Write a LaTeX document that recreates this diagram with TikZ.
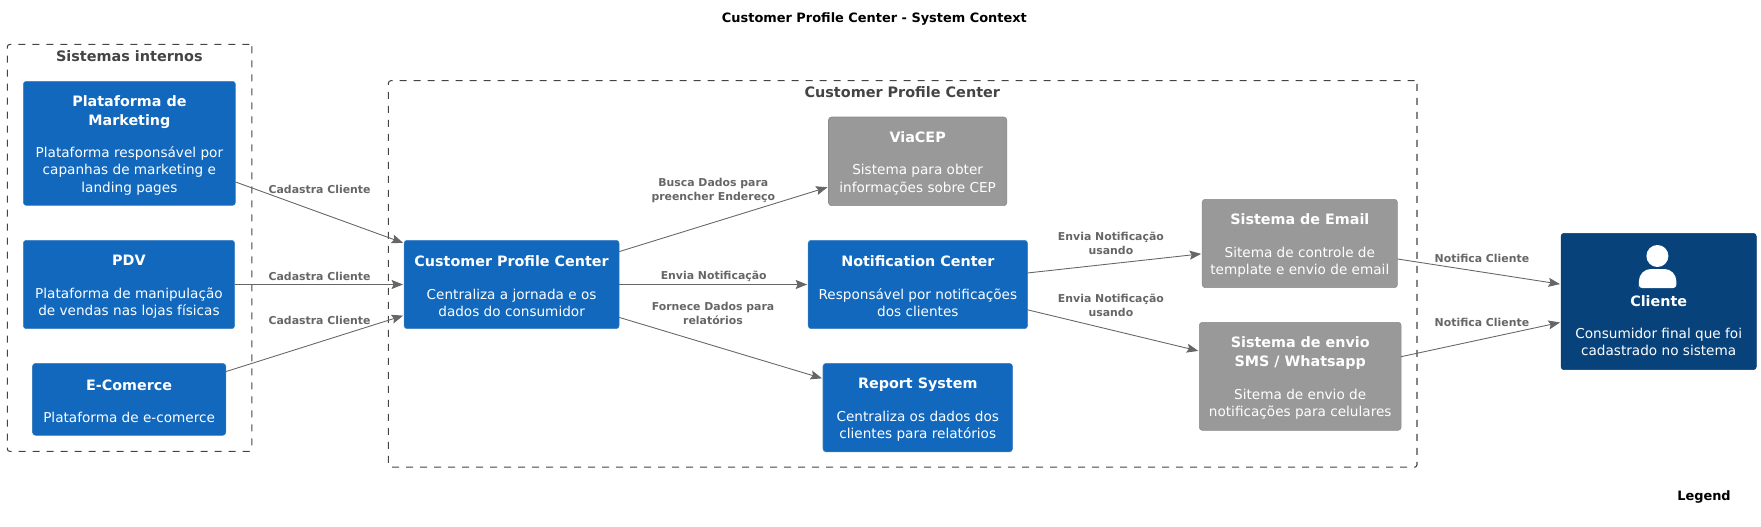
\documentclass[tikz,border=0pt]{standalone}
\usepackage{fontspec}
\setmainfont{DejaVu Sans}
\usetikzlibrary{arrows.meta}
\definecolor{sysblue}{HTML}{1168BD}
\definecolor{sysblueline}{HTML}{3C7FC0}
\definecolor{extgray}{HTML}{999999}
\definecolor{extgrayline}{HTML}{8A8A8A}
\definecolor{persblue}{HTML}{08427B}
\definecolor{persline}{HTML}{073B6F}
\definecolor{edgegray}{HTML}{666666}
\definecolor{framegray}{HTML}{444444}
\newcommand{\sysname}[1]{{\fontsize{8.15}{9.7}\selectfont\bfseries\rule{0pt}{8.2pt}#1}}
\begin{document}
\begin{tikzpicture}[
    sysbox/.style={rectangle, draw=sysblueline, fill=sysblue, text=white, rounded corners=0.06cm, line width=0.3pt,
        inner sep=0pt, outer sep=0pt, align=center, font=\fontsize{7.75}{9.7}\selectfont},
    extbox/.style={sysbox, draw=extgrayline, fill=extgray},
    persbox/.style={sysbox, draw=persline, fill=persblue},
    frame/.style={rectangle, draw=framegray, dash pattern=on 0.14cm off 0.14cm, line width=0.6pt,
        rounded corners=0.05cm, inner sep=0pt, outer sep=0pt},
    frametitle/.style={font=\fontsize{8.2}{10}\selectfont\bfseries, text=framegray, inner sep=0pt},
    edgelabel/.style={font=\fontsize{6.2}{8}\selectfont\bfseries, text=edgegray, align=center, inner sep=0pt},
    heading/.style={font=\fontsize{7.35}{8}\selectfont\bfseries, text=black, inner sep=0pt},
    arrow/.style={-{Stealth[length=0.23cm, width=0.18cm, inset=0.04cm]}, draw=edgegray, line width=0.5pt, shorten >=0.6pt}
]
\useasboundingbox (0, 0) rectangle (35.22, -10.54);

% Title and legend
\node[heading] (title) at (17.488, -0.376) {Customer Profile Center - System Context};
\node[heading] (legend) at (34.08, -9.934) {Legend};

% Boundaries
\node[frame, minimum width=4.89cm, minimum height=8.14cm] (internos) at (2.591, -4.958) {};
\node[frame, minimum width=20.572cm, minimum height=7.73cm] (center) at (18.054, -5.479) {};
\node[frametitle] (internostitle) at (2.588, -1.13) {Sistemas internos};
\node[frametitle] (centertitle) at (18.046, -1.848) {Customer Profile Center};

% Internal systems
\node[sysbox, minimum width=4.242cm, minimum height=2.482cm] (plat) at (2.588, -2.867)
    {\sysname{Plataforma de}\\[1.2pt] \sysname{Marketing}\\[8.8pt] Plataforma responsável por\\ capanhas de marketing e\\ landing pages};
\node[sysbox, minimum width=4.226cm, minimum height=1.768cm] (pdv) at (2.579, -5.69)
    {\sysname{PDV}\\[8.8pt] Plataforma de manipulação\\ de vendas nas lojas físicas};
\node[sysbox, minimum width=3.866cm, minimum height=1.438cm] (ecom) at (2.583, -7.987)
    {\sysname{E-Comerce}\\[8.8pt] Plataforma de e-comerce};

% Center
\node[sysbox, minimum width=4.3cm, minimum height=1.768cm] (cpc) at (10.232, -5.69)
    {\sysname{Customer Profile Center}\\[8.8pt] Centraliza a jornada e os\\ dados do consumidor};
\node[extbox, minimum width=3.566cm, minimum height=1.774cm] (via) at (18.353, -3.227)
    {\sysname{ViaCEP}\\[8.8pt] Sistema para obter\\ informações sobre CEP};
\node[sysbox, minimum width=4.386cm, minimum height=1.768cm] (notif) at (18.357, -5.69)
    {\sysname{Notification Center}\\[8.8pt] Responsável por notificações\\ dos clientes};
\node[sysbox, minimum width=3.79cm, minimum height=1.768cm] (report) at (18.355, -8.152)
    {\sysname{Report System}\\[8.8pt] Centraliza os dados dos\\ clientes para relatórios};
\node[extbox, minimum width=3.904cm, minimum height=1.768cm] (email) at (25.996, -4.87)
    {\sysname{Sistema de Email}\\[8.8pt] Sitema de controle de\\ template e envio de email};
\node[extbox, minimum width=4.036cm, minimum height=2.16cm] (sms) at (26.004, -7.526)
    {\sysname{Sistema de envio}\\[1.2pt] \sysname{SMS / Whatsapp}\\[8.8pt] Sitema de envio de\\ notificações para celulares};

% Person
\node[persbox, minimum width=3.906cm, minimum height=2.728cm] (cliente) at (33.173, -6.03)
    {\rule{0pt}{0.85cm}\\ \sysname{Cliente}\\[8.8pt] Consumidor final que foi\\ cadastrado no sistema};
\node[circle, fill=white, minimum size=0.44cm, inner sep=0pt] (clientehead) at (33.148, -5.12) {};
\fill[white] (32.778, -5.72) [rounded corners=0.24cm] -- (32.778, -5.38) -- (33.526, -5.38)
    [rounded corners=0.06cm] -- (33.526, -5.76) -- (32.778, -5.76) -- cycle;

% Arrows
\draw[arrow] (plat.-20.2) -- (cpc.159.8);
\draw[arrow] (pdv.east) -- (cpc.west);
\draw[arrow] (ecom.16.8) -- (cpc.196.8);
\draw[arrow] (cpc.17.3) -- (via.196.9);
\draw[arrow] (cpc.east) -- (notif.west);
\draw[arrow] (cpc.-17.1) -- (report.163.4);
\draw[arrow] (notif.6.55) -- (email.186.3);
\draw[arrow] (notif.-13.2) -- (sms.166);
\draw[arrow] (email.-9) -- (cliente.170.5);
\draw[arrow] (sms.11.8) -- (cliente.192.2);

% Arrow labels
\node[edgelabel] (lplat) at (6.392, -3.792) {Cadastra Cliente};
\node[edgelabel] (lpdv) at (6.392, -5.532) {Cadastra Cliente};
\node[edgelabel] (lecom) at (6.392, -6.414) {Cadastra Cliente};
\node[edgelabel] (lvia) at (14.266, -3.816) {Busca Dados para\\ preencher Endereço};
\node[edgelabel] (lnotif) at (14.274, -5.532) {Envia Notificação};
\node[edgelabel] (lreport) at (14.26, -6.272) {Fornece Dados para\\ relatórios};
\node[edgelabel] (lemail) at (22.218, -4.874) {Envia Notificação\\ usando};
\node[edgelabel] (lsms) at (22.218, -6.114) {Envia Notificação\\ usando};
\node[edgelabel] (lnot1) at (29.638, -5.166) {Notifica Cliente};
\node[edgelabel] (lnot2) at (29.638, -6.454) {Notifica Cliente};
\end{tikzpicture}
\end{document}
